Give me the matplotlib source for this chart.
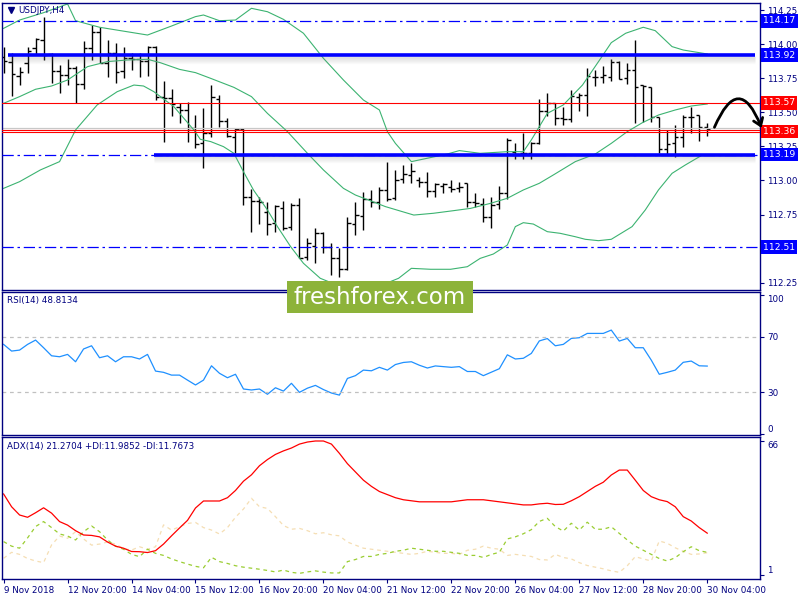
import matplotlib.pyplot as plt
import numpy as np
from matplotlib.patches import Rectangle

# USDJPY H4 bars (price)
opens = [113.908, 113.872, 113.767, 113.859, 113.969, 114.031, 113.928, 113.803, 113.774, 113.828,
         113.705, 113.974, 114.087, 113.864, 113.933, 113.806, 113.896, 113.889, 113.879, 113.982,
         113.615, 113.607, 113.536, 113.517, 113.387, 113.277, 113.346, 113.595, 113.439, 113.321,
         113.375, 112.881, 112.847, 112.771, 112.690, 112.795, 112.656, 112.820, 112.436, 112.519,
         112.617, 112.514, 112.428, 112.348, 112.680, 112.739, 112.861, 112.844, 112.930, 112.869,
         113.008, 113.040, 113.003, 112.991, 112.925, 112.960, 112.950, 112.942, 112.984, 112.844,
         112.827, 112.729, 112.827, 112.905, 113.211, 113.199, 113.204, 113.277, 113.512, 113.566,
         113.456, 113.448, 113.615, 113.627, 113.757, 113.762, 113.762, 113.872, 113.749, 113.810,
         113.700, 113.683, 113.463, 113.228, 113.277, 113.321, 113.463, 113.480, 113.390]
highs = [113.982, 113.933, 113.835, 113.982, 114.043, 114.202, 113.938, 113.847, 113.889, 113.840,
         114.026, 114.141, 114.124, 114.031, 114.011, 113.982, 113.938, 113.933, 113.987, 113.987,
         113.732, 113.669, 113.566, 113.576, 113.480, 113.529, 113.700, 113.627, 113.456, 113.382,
         113.382, 112.935, 112.876, 112.844, 112.820, 112.849, 112.832, 112.869, 112.575, 112.649,
         112.624, 112.543, 112.502, 112.729, 112.844, 112.918, 112.930, 112.950, 113.138, 113.077,
         113.113, 113.126, 113.028, 113.064, 112.984, 112.979, 113.003, 112.991, 112.984, 112.910,
         112.869, 112.881, 112.959, 113.309, 113.277, 113.351, 113.285, 113.595, 113.639, 113.566,
         113.536, 113.664, 113.639, 113.823, 113.810, 113.840, 113.889, 113.877, 113.859, 114.031,
         113.700, 113.683, 113.463, 113.370, 113.407, 113.480, 113.541, 113.480, 113.424]
lows = [113.786, 113.622, 113.701, 113.791, 113.920, 113.884, 113.717, 113.644, 113.701, 113.566,
        113.669, 113.884, 113.859, 113.757, 113.717, 113.749, 113.810, 113.762, 113.767, 113.590,
        113.285, 113.473, 113.419, 113.285, 113.236, 113.089, 113.321, 113.395, 113.316, 113.204,
        112.820, 112.624, 112.680, 112.600, 112.624, 112.636, 112.636, 112.428, 112.416, 112.392,
        112.465, 112.306, 112.289, 112.343, 112.600, 112.636, 112.808, 112.788, 112.852, 112.857,
        112.984, 112.979, 112.950, 112.876, 112.876, 112.905, 112.918, 112.918, 112.808, 112.808,
        112.698, 112.649, 112.788, 112.861, 113.155, 113.155, 113.155, 113.267, 113.473, 113.407,
        113.407, 113.431, 113.512, 113.473, 113.693, 113.717, 113.732, 113.742, 113.708, 113.424,
        113.431, 113.431, 113.204, 113.194, 113.174, 113.243, 113.346, 113.292, 113.326]
closes = [113.877, 113.781, 113.794, 113.952, 114.035, 113.920, 113.803, 113.774, 113.828, 113.705,
          113.974, 114.087, 113.864, 113.933, 113.798, 113.896, 113.889, 113.879, 113.982, 113.615,
          113.607, 113.561, 113.517, 113.387, 113.267, 113.346, 113.610, 113.439, 113.326, 113.375,
          112.881, 112.847, 112.844, 112.680, 112.812, 112.649, 112.820, 112.428, 112.543, 112.617,
          112.514, 112.428, 112.350, 112.685, 112.746, 112.861, 112.844, 112.930, 112.861, 113.003,
          113.047, 113.072, 112.991, 112.925, 112.974, 112.974, 112.935, 112.954, 112.844, 112.837,
          112.734, 112.820, 112.905, 113.297, 113.194, 113.204, 113.277, 113.512, 113.571, 113.456,
          113.448, 113.620, 113.627, 113.767, 113.762, 113.774, 113.872, 113.742, 113.810, 113.683,
          113.693, 113.463, 113.228, 113.267, 113.321, 113.468, 113.463, 113.395, 113.375]

# Bollinger bands, read at bar positions
bb_up_idx = [0, 2, 5, 8, 9, 12, 18, 21, 24, 25, 27, 29, 31, 33, 35, 37.5, 40, 42.5, 45, 47,
             48, 49, 51, 55.5, 57, 59.6, 63, 65, 66, 67, 68, 70, 71, 72.4, 74.6, 76, 77.8, 80,
             81.5, 83.6, 85, 88]
bb_up = [114.116, 114.177, 114.231, 114.295, 114.172, 114.124, 114.067, 114.133, 114.202, 114.214,
         114.172, 114.177, 114.263, 114.238, 114.182, 114.080, 113.896, 113.737, 113.590, 113.517,
         113.358, 113.272, 113.138, 113.194, 113.219, 113.199, 113.211, 113.211, 113.297, 113.395,
         113.492, 113.554, 113.615, 113.700, 113.889, 114.011, 114.080, 114.124, 114.099, 113.982,
         113.957, 113.928]
bb_mid_idx = [0, 2, 4, 6, 8, 10.5, 13, 15.5, 18, 19.6, 22, 24, 25.9, 28.8, 31, 33, 35.5, 38, 40,
              42.5, 44, 47.75, 51.3, 53.75, 56.25, 58.4, 60.9, 63, 65, 67, 68.75, 71.5, 74, 76,
              78, 79.9, 81.9, 84, 86, 88]
bb_mid = [113.566, 113.615, 113.669, 113.693, 113.737, 113.835, 113.872, 113.884, 113.889, 113.864,
          113.815, 113.791, 113.749, 113.683, 113.615, 113.492, 113.358, 113.199, 113.077, 112.942,
          112.893, 112.808, 112.746, 112.759, 112.778, 112.795, 112.832, 112.869, 112.930, 112.979,
          113.040, 113.138, 113.194, 113.272, 113.358, 113.424, 113.480, 113.517, 113.546, 113.561]
bb_lo_idx = [0, 2, 4.6, 7, 9, 11.7, 14.2, 16.3, 17.5, 18.8, 21.3, 23.8, 24.6, 25.9, 27.5, 28.8,
             30, 31.25, 33, 34.25, 35.9, 37.5, 39.6, 42, 45, 47, 49.4, 51, 53.4, 55.9, 58, 59.6,
             61.25, 63, 64, 65, 66.25, 68, 69.6, 71.5, 72.75, 74.4, 76, 78.6, 80.25, 81.9, 83.6,
             85.25, 87.4]
bb_lo = [112.942, 112.991, 113.077, 113.138, 113.370, 113.554, 113.651, 113.700, 113.693, 113.651,
         113.541, 113.370, 113.302, 113.285, 113.248, 113.199, 113.064, 112.930, 112.783, 112.661,
         112.514, 112.392, 112.282, 112.225, 112.205, 112.225, 112.282, 112.355, 112.348, 112.348,
         112.367, 112.428, 112.460, 112.526, 112.661, 112.690, 112.680, 112.624, 112.612, 112.587,
         112.568, 112.558, 112.568, 112.661, 112.783, 112.930, 113.052, 113.113, 113.187]

rsi = [64.5, 59.7, 60.4, 64.5, 67.6, 62.1, 56.3, 55.6, 57.3, 52.0,
       61.2, 63.5, 54.9, 56.3, 52.0, 55.6, 55.6, 54.0, 57.3, 45.3,
       44.4, 42.4, 42.4, 38.8, 35.3, 38.8, 49.1, 43.7, 40.5, 43.0,
       32.4, 31.7, 32.4, 28.6, 33.3, 30.9, 36.5, 30.0, 33.0, 35.0,
       32.0, 29.5, 28.0, 40.0, 42.0, 46.0, 45.5, 48.0, 46.0, 50.0,
       51.5, 52.0, 49.5, 47.5, 49.0, 48.5, 48.0, 48.5, 45.0, 45.0,
       42.0, 44.5, 47.0, 57.0, 54.0, 54.5, 58.0, 67.0, 68.7, 63.5,
       64.5, 68.8, 69.3, 72.4, 72.4, 72.4, 74.8, 66.9, 68.8, 62.1,
       62.1, 53.2, 43.0, 44.4, 46.0, 51.6, 52.5, 49.1, 48.9]

adx = [40.3, 34.1, 30.1, 29.0, 31.2, 33.6, 31.0, 26.9, 25.2, 22.5,
       20.4, 20.2, 19.5, 17.0, 15.0, 14.0, 12.4, 12.3, 11.9, 12.8,
       16.0, 20.0, 23.8, 27.5, 33.5, 36.9, 36.9, 36.9, 38.5, 42.0,
       46.5, 49.6, 54.0, 57.0, 59.5, 61.2, 62.6, 64.5, 65.5, 66.0,
       66.0, 64.5, 60.0, 55.0, 51.0, 47.0, 44.0, 41.5, 40.0, 38.5,
       37.5, 37.0, 36.5, 36.5, 36.5, 36.5, 36.5, 37.0, 37.5, 37.5,
       37.5, 37.0, 36.5, 36.0, 35.5, 35.0, 35.0, 35.5, 35.8, 35.2,
       35.3, 37.0, 39.0, 41.5, 44.0, 46.0, 49.5, 51.9, 51.9, 47.0,
       42.0, 39.0, 37.5, 36.6, 34.1, 29.3, 27.2, 24.0, 21.3]
plus_di = [17.2, 15.0, 14.0, 19.0, 24.5, 26.9, 24.0, 20.9, 19.9, 18.0,
           22.0, 24.8, 22.0, 18.0, 15.0, 13.5, 11.0, 9.9, 13.5, 11.5,
           10.5, 8.8, 7.5, 6.3, 5.2, 4.5, 9.6, 7.5, 6.6, 5.5,
           4.8, 4.3, 3.8, 3.2, 2.5, 3.4, 2.3, 1.8, 2.5, 3.0,
           2.4, 2.0, 2.0, 7.5, 8.5, 10.0, 10.0, 11.0, 11.5, 12.5,
           13.0, 14.0, 13.5, 13.0, 12.5, 12.5, 12.0, 11.5, 10.5, 10.5,
           9.5, 11.0, 12.0, 18.5, 19.5, 21.0, 23.0, 27.0, 28.5, 24.5,
           22.3, 26.1, 22.8, 26.6, 23.2, 23.2, 24.4, 21.2, 18.0, 15.0,
           13.0, 11.0, 9.0, 7.8, 9.4, 12.3, 14.7, 12.8, 12.0]
minus_di = [9.1, 12.0, 11.0, 9.0, 7.8, 7.0, 15.6, 19.9, 18.8, 22.0,
            18.5, 15.5, 16.0, 17.0, 16.0, 13.8, 13.1, 14.7, 13.5, 14.7,
            25.3, 22.8, 24.4, 26.0, 26.5, 24.0, 22.8, 20.9, 24.0, 29.0,
            33.0, 38.2, 34.1, 33.3, 29.3, 25.0, 23.2, 23.6, 22.5, 21.0,
            21.5, 20.5, 20.0, 17.0, 15.5, 14.0, 13.5, 13.0, 12.5, 12.0,
            11.5, 11.0, 11.5, 12.5, 12.0, 11.5, 11.5, 11.0, 13.0, 13.5,
            15.0, 14.0, 13.5, 10.5, 11.0, 10.5, 10.0, 8.5, 8.3, 11.0,
            9.5, 8.8, 7.0, 5.6, 4.8, 4.0, 3.0, 2.3, 5.5, 9.9,
            8.8, 7.8, 17.5, 16.4, 14.2, 12.5, 11.0, 11.2, 11.8]

price_ticks = [114.25, 114.00, 113.75, 113.50, 113.25, 113.00, 112.75, 112.50, 112.25]
date_labels = ['9 Nov 2018', '12 Nov 20:00', '14 Nov 04:00', '15 Nov 12:00', '16 Nov 20:00',
               '20 Nov 04:00', '21 Nov 12:00', '22 Nov 20:00', '26 Nov 04:00', '27 Nov 12:00',
               '28 Nov 20:00', '30 Nov 04:00']
# horizontal levels
dashdot_levels = [114.17, 113.19, 112.51]
thick_levels = [113.92, 113.19]
thick_start = [0.6, 18.75]
red_single = 113.57
red_double = 113.36
bid = 113.387
tags = [(114.17, 'blue'), (113.92, 'blue'), (113.57, 'red'), (113.36, 'red'),
        (113.19, 'blue'), (112.51, 'blue')]

navy = '#000080'
plt.rcParams['font.family'] = 'DejaVu Sans'
fs = 6.3

fig = plt.figure(figsize=(8, 6), dpi=100)
fig.patch.set_facecolor('white')
L, W = 2 / 800, 758 / 800
ax = fig.add_axes([L, 1 - 290 / 600, W, 287 / 600])
ax_rsi = fig.add_axes([L, 1 - 435 / 600, W, 143 / 600])
ax_adx = fig.add_axes([L, 1 - 579 / 600, W, 142 / 600])

for a in (ax, ax_rsi, ax_adx):
    a.set_xlim(-0.2, 94.6)
    for s in a.spines.values():
        s.set_color(navy)
        s.set_linewidth(1.0)
    a.yaxis.tick_right()
    a.tick_params(axis='y', colors=navy, labelcolor=navy, length=3, width=0.8, pad=2, labelsize=fs)
    a.set_xticks([])

idx = np.arange(len(closes))
px = 1 / 136.3  # one pixel in price units

# --- main panel
ax.set_ylim(112.196, 114.302)
ax.set_yticks(price_ticks)
ax.set_yticklabels(['%.2f' % v for v in price_ticks])

ax.vlines(idx, lows, highs, color='black', lw=1.0, zorder=2)
ax.hlines(opens, idx - 0.4, idx, color='black', lw=1.0, zorder=2)
ax.hlines(closes, idx, idx + 0.4, color='black', lw=1.0, zorder=2)

for bx, by in ((bb_up_idx, bb_up), (bb_mid_idx, bb_mid), (bb_lo_idx, bb_lo)):
    ax.plot(bx, by, color='#3CB371', lw=0.8, zorder=2.5)

for lv in dashdot_levels:
    ax.axhline(lv, color='#0000ff', lw=0.9, ls=(0, (9, 3, 2, 3)), zorder=3)
ax.axhline(bid, color='#c8c8c8', lw=0.9, zorder=2.2)
ax.axhline(red_single, color='red', lw=0.8, zorder=3)
ax.axhline(red_double + px, color='red', lw=0.8, zorder=3)
ax.axhline(red_double - px, color='red', lw=0.8, zorder=3)
for lv, x0 in zip(thick_levels, thick_start):
    for k in range(1, 8):
        ax.hlines(lv - (k + 0.5) * px, x0, 94.0, color='gray', lw=1.0, alpha=0.22 - 0.027 * k, zorder=2.8)
    ax.hlines(lv, x0, 94.0, color='#0000ff', lw=2.6, zorder=3.1)

for lv, c in tags:
    ax.text(1.0 + 3 / 758, lv, '%.2f' % lv, transform=ax.get_yaxis_transform(), ha='left', va='center',
            color='white', fontsize=fs + 0.4, clip_on=False, zorder=5,
            bbox=dict(boxstyle='square,pad=0.25', fc='#0000ff' if c == 'blue' else '#ff0000', ec='none'))

ax.plot([8.5 / 758], [1 - 7 / 287], marker='v', color=navy, ms=4.5, transform=ax.transAxes)
ax.text(16 / 758, 1 - 7 / 287, 'USDJPY,H4', transform=ax.transAxes, color=navy, fontsize=fs,
        ha='left', va='center')

ann = ax.annotate('', xy=(94.8, 113.385), xytext=(88.9, 113.39),
                  arrowprops=dict(arrowstyle='->,head_length=0.5,head_width=0.35', lw=2.0,
                                  color='black', connectionstyle='arc3,rad=-1.2',
                                  shrinkA=0, shrinkB=0),
                  annotation_clip=False, zorder=6)
ann.arrow_patch.set_clip_on(False)

# --- RSI panel
ax_rsi.set_ylim(-0.7, 102.2)
ax_rsi.plot(idx, rsi, color='#1E90FF', lw=0.9)
for lv in (70, 30):
    ax_rsi.axhline(lv, color='#c0c0c0', lw=0.9, ls=(0, (3, 3)))
ax_rsi.set_yticks([0, 30, 70, 100])
ax_rsi.set_yticklabels(['0', '30', '70', '100'])
rl = ax_rsi.get_yticklabels()
rl[0].set_va('bottom')
rl[3].set_va('top')
ax_rsi.text(5 / 758, 1 - 9 / 143, 'RSI(14) 48.8134', transform=ax_rsi.transAxes, color=navy,
            fontsize=fs, ha='left', va='center')

# --- ADX panel
ax_adx.set_ylim(-0.94, 67.94)
ax_adx.plot(idx, minus_di, color='#F5DEB3', lw=0.9, ls=(0, (3, 3)))
ax_adx.plot(idx, plus_di, color='#9ACD32', lw=0.9, ls=(0, (3, 3)))
ax_adx.plot(idx, adx, color='#ff0000', lw=0.9)
ax_adx.set_yticks([1, 66])
ax_adx.set_yticklabels(['1', '66'])
al = ax_adx.get_yticklabels()
al[0].set_va('bottom')
al[1].set_va('top')
ax_adx.text(5 / 758, 1 - 9 / 142, 'ADX(14) 21.2704 +DI:11.9852 -DI:11.7673', transform=ax_adx.transAxes,
            color=navy, fontsize=fs, ha='left', va='center')
ax_adx.set_xticks(np.arange(0, 89, 8))
ax_adx.set_xticklabels(date_labels, ha='left')
ax_adx.tick_params(axis='x', colors=navy, labelcolor=navy, length=3, width=0.8, pad=2, labelsize=fs)

# --- watermark logo
fig.add_artist(Rectangle((287 / 800, 1 - 313 / 600), 186 / 800, 32 / 600, transform=fig.transFigure,
                         fc='#8db33a', ec='none', zorder=10))
fig.text(380 / 800, 1 - 297 / 600, 'freshforex.com', color='white', fontsize=16.5,
         ha='center', va='center', zorder=11)

fig.savefig('out.png', dpi=100, facecolor='white')
